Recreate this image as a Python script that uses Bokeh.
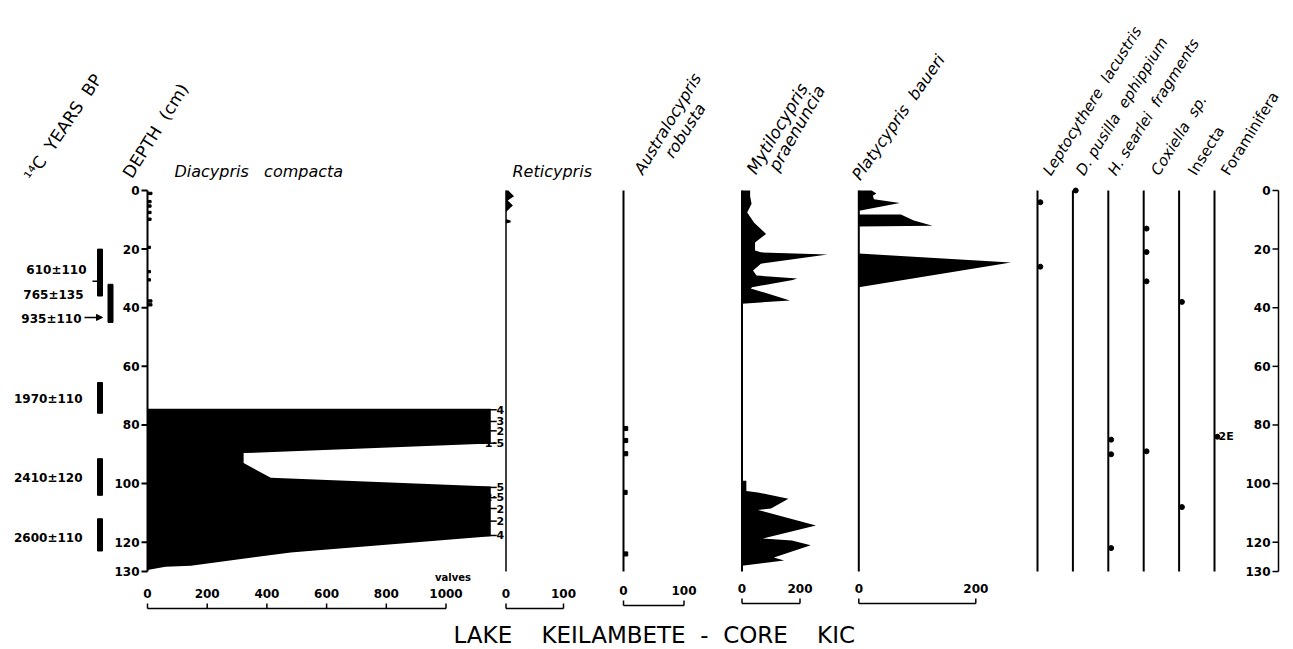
import numpy as np
from bokeh.plotting import figure
from bokeh.models import Range1d, Arrow, NormalHead
from bokeh.core.properties import value
from bokeh.embed import file_html
from bokeh.resources import INLINE

NB = "\u00a0"  # non-breaking space keeps the wide word gaps of the original lettering

# ---------------- data ----------------
depth_ticks = [0, 20, 40, 60, 80, 100, 120, 130]

date_labels = ["610±110", "765±135", "935±110", "1970±110", "2410±120", "2600±110"]
date_label_depth = [27.0, 35.5, 43.7, 71.0, 98.0, 118.5]
date_bar_top = [20.0, 32.0, 65.5, 91.5, 112.0]
date_bar_bot = [36.0, 45.0, 76.0, 104.0, 123.0]
date_bar_col = [0, 1, 0, 0, 0]
date_mark_depth = 31.0
date_arrow_depth = 43.3

# Diacypris compacta (valves)
dia_small_depth = [1.0, 3.8, 5.3, 7.5, 9.8, 19.4, 27.7, 30.5, 37.7, 39.0]
dia_small_val = [15, 12, 12, 12, 12, 10, 10, 10, 15, 15]
dia_depth = [74.5, 74.5, 86.3, 89.6, 93.0, 98.0, 101.0, 118.0, 123.2, 123.5, 128.0, 128.4, 129.5]
dia_val = [0, 4000, 1500, 322, 322, 413, 5000, 4000, 520, 480, 145, 60, 0]
dia_trunc_depth = [74.8, 78.8, 82.0, 86.2, 101.3, 104.8, 108.5, 112.8, 117.7]
dia_trunc_label = ["4", "3", "2", "1·5", "5", "2·5", "2", "2", "4"]
dia_ticks = [0, 200, 400, 600, 800, 1000]

# Reticypris
ret_depth = [0.0, 2.0, 3.4, 5.1, 7.3, 9.8, 10.2, 10.9, 11.3]
ret_val = [4, 14, 3, 12, 0, 0, 8, 8, 0]
ret_ticks = [0, 100]

# Australocypris robusta
aus_depth = [81.2, 85.3, 89.8, 103.0, 124.0]
aus_val = [7, 7, 7, 6, 7]
aus_ticks = [0, 100]

# Mytilocypris praenuncia
myt_depth = [0, 2.0, 4.5, 7.5, 11.0, 14.8, 17.7, 20.5, 21.1, 21.8, 25.0, 27.3, 29.0, 30.0, 30.5,
             33.0, 33.4, 37.5, 38.6, 99.0, 99.0, 102.5, 103.0, 105.2, 108.5, 109.0, 114.3,
             118.7, 119.4, 121.0, 125.2, 126.2, 128.0]
myt_val = [28, 28, 33, 18, 42, 83, 45, 45, 65, 295, 65, 38, 50, 190, 175,
           35, 30, 165, 0, 0, 15, 15, 55, 160, 100, 55, 255,
           72, 172, 237, 110, 145, 0]
myt_ticks = [0, 200]

# Platycypris baueri
pla_depth = [0, 1.0, 1.8, 3.0, 4.3, 6.8, 7.0, 8.2, 8.2, 10.2, 12.0, 12.3, 21.5, 24.6, 33.0]
pla_val = [22, 30, 24, 26, 70, 3, 0, 0, 72, 94, 126, 0, 0, 260, 0]
pla_ticks = [0, 200]

# presence / absence columns
pres_labels = ["Leptocythere" + NB + " lacustris", "D. pusilla" + NB + " ephippium",
               "H. searlei" + NB + " fragments", "Coxiella" + NB + " sp.", "Insecta", "Foraminifera"]
pres_dot_col = [0, 0, 1, 2, 2, 2, 3, 3, 3, 3, 4, 4, 5]
pres_dot_depth = [4, 26, 0, 85, 90, 122, 13, 21, 31, 89, 38, 108, 84]
pres_note = "2E"
pres_note_depth = 84

title_text = ("LAKE" + NB * 3 + " KEILAMBETE" + NB + " -" + NB + " CORE" + NB * 3 + " KIC")

# ---------------- layout ----------------
W, H = 1293, 649
TOP_PX = 190.0
PX_PER_CM = 2.931
FONT = value("DejaVu Sans")

p = figure(width=W, height=H, output_backend="svg", toolbar_location=None,
           x_range=Range1d(0, W),
           y_range=Range1d((H - TOP_PX) / PX_PER_CM, -TOP_PX / PX_PER_CM),
           x_axis_type=None, y_axis_type=None,
           min_border=0, min_border_left=0, min_border_right=0,
           min_border_top=0, min_border_bottom=0, outline_line_color=None)
p.background_fill_color = "white"
p.border_fill_color = "white"


def panel_range(px0, px_per_unit):
    return Range1d(-px0 / px_per_unit, (W - px0) / px_per_unit)


p.extra_y_ranges = {"px": Range1d(H, 0)}
p.extra_x_ranges = {
    "dia": panel_range(147.0, 0.2985),
    "ret": panel_range(505.5, 0.575),
    "aus": panel_range(623.0, 0.605),
    "myt": panel_range(741.5, 0.29),
    "pla": panel_range(858.3, 0.585),
    "pres": panel_range(1037.0, 35.4),
}
D0, D1 = depth_ticks[0], depth_ticks[-1]
BLACK = "black"


def txt(x, y, s, size, angle=0.0, style="normal", align="left", baseline="bottom",
        xr="default", yr="px", xoff=0):
    p.text(x=x if isinstance(x, list) else [x], y=y if isinstance(y, list) else [y],
           text=s if isinstance(s, list) else [s],
           x_range_name=xr, y_range_name=yr, angle=np.deg2rad(angle),
           text_font=FONT, text_font_size=f"{size}px", text_font_style=style,
           text_align=align, text_baseline=baseline, text_color=BLACK, x_offset=xoff)


# ---- left depth axis ----
n = len(depth_ticks)
p.segment(x0=[147], x1=[147], y0=[D0], y1=[D1], line_color=BLACK, line_width=2)
p.segment(x0=[141] * n, x1=[147] * n, y0=depth_ticks, y1=depth_ticks, line_color=BLACK, line_width=2)
txt([139] * n, depth_ticks, [str(t) for t in depth_ticks], 12, style="bold",
    align="right", baseline="middle", yr="default")

# ---- radiocarbon dates ----
col_x = [99.5, 110.0]
p.vbar(x=[col_x[c] for c in date_bar_col], bottom=date_bar_bot, top=date_bar_top,
       width=5.0, color=BLACK)
p.segment(x0=[92], x1=[98], y0=[date_mark_depth], y1=[date_mark_depth], line_color=BLACK, line_width=1.5)
lab_x = [86, 83, 81, 82, 82, 82]
txt(lab_x, date_label_depth, date_labels, 12, style="bold", align="right",
    baseline="middle", yr="default")
p.add_layout(Arrow(x_start=84, x_end=102, y_start=date_arrow_depth, y_end=date_arrow_depth,
                   line_width=1.5, line_color=BLACK,
                   end=NormalHead(size=6, fill_color=BLACK, line_color=BLACK)))

# ---- Diacypris compacta ----
DIA_CAP = 1150
p.hbar(y=dia_small_depth, left=0, right=dia_small_val, height=0.8, color=BLACK, x_range_name="dia")
p.harea(y=dia_depth, x1=[0] * len(dia_depth), x2=list(np.minimum(dia_val, DIA_CAP)),
        fill_color=BLACK, x_range_name="dia")
m = len(dia_trunc_depth)
p.segment(x0=[1110] * m, x1=[1170] * m, y0=dia_trunc_depth, y1=dia_trunc_depth,
          line_color=BLACK, line_width=1.5, x_range_name="dia")
txt([1195] * m, dia_trunc_depth, dia_trunc_label, 11, style="bold", align="right",
    baseline="middle", xr="dia", yr="default")

# ---- Reticypris ----
p.segment(x0=[0], x1=[0], y0=[D0], y1=[D1], line_color=BLACK, line_width=1.5, x_range_name="ret")
p.harea(y=ret_depth, x1=[0] * len(ret_depth), x2=ret_val, fill_color=BLACK, x_range_name="ret")

# ---- Australocypris ----
p.segment(x0=[0], x1=[0], y0=[D0], y1=[D1], line_color=BLACK, line_width=2, x_range_name="aus")
p.hbar(y=aus_depth, left=0, right=aus_val, height=1.4, color=BLACK, x_range_name="aus")

# ---- Mytilocypris ----
p.segment(x0=[0], x1=[0], y0=[D0], y1=[D1], line_color=BLACK, line_width=2, x_range_name="myt")
p.harea(y=myt_depth, x1=[0] * len(myt_depth), x2=myt_val, fill_color=BLACK, x_range_name="myt")

# ---- Platycypris ----
p.segment(x0=[0], x1=[0], y0=[D0], y1=[D1], line_color=BLACK, line_width=2, x_range_name="pla")
p.harea(y=pla_depth, x1=[0] * len(pla_depth), x2=pla_val, fill_color=BLACK, x_range_name="pla")

# ---- presence columns ----
k = len(pres_labels)
p.segment(x0=list(range(k)), x1=list(range(k)), y0=[D0] * k, y1=[D1] * k,
          line_color=BLACK, line_width=2, x_range_name="pres")
p.scatter(x=[c + 0.08 for c in pres_dot_col], y=pres_dot_depth, size=5, color=BLACK,
          x_range_name="pres")
txt([k - 1], [pres_note_depth], [pres_note], 11, style="bold", align="left",
    baseline="middle", xr="pres", yr="default", xoff=4)

# ---- right depth axis ----
p.segment(x0=[1278], x1=[1278], y0=[D0], y1=[D1], line_color=BLACK, line_width=1.5)
p.segment(x0=[1272] * n, x1=[1278] * n, y0=depth_ticks, y1=depth_ticks, line_color=BLACK, line_width=1.5)
txt([1270] * n, depth_ticks, [str(t) for t in depth_ticks], 12, style="bold",
    align="right", baseline="middle", yr="default")


# ---- scale bars ----
def scale_bar(rname, ticks, ybar, ylab):
    t0, t1 = ticks[0], ticks[-1]
    nt = len(ticks)
    p.segment(x0=[t0], x1=[t1], y0=[ybar], y1=[ybar], line_color=BLACK, line_width=1.5,
              x_range_name=rname, y_range_name="px")
    p.segment(x0=ticks, x1=ticks, y0=[ybar] * nt, y1=[ybar - 5] * nt, line_color=BLACK,
              line_width=1.5, x_range_name=rname, y_range_name="px")
    txt(ticks, [ylab] * nt, [str(t) for t in ticks], 12, style="bold", align="center",
        baseline="middle", xr=rname)


scale_bar("dia", dia_ticks, 608, 593)
scale_bar("ret", ret_ticks, 608, 593)
scale_bar("aus", aus_ticks, 605, 590)
scale_bar("myt", myt_ticks, 603, 588)
scale_bar("pla", pla_ticks, 603, 588)
txt([dia_ticks[-1]], [577], ["valves"], 10, style="bold", align="center", baseline="middle",
    xr="dia", xoff=7)

# ---- headers ----
txt(36, 184, "¹⁴C" + NB + " YEARS" + NB + " BP", 17, angle=56)
txt(135, 181, "DEPTH" + NB + " (cm)", 17, angle=58)
txt(174, 180, "Diacypris" + NB * 2 + " compacta", 16, style="italic")
txt(512, 180, "Reticypris", 16, style="italic")
txt(646, 177, "Australocypris", 16, angle=59, style="italic")
txt(676, 161, "robusta", 16, angle=57, style="italic")
txt(759, 177, "Mytilocypris", 17, angle=59, style="italic")
txt(781, 174, "praenuncia", 17, angle=60, style="italic")
txt(863, 183, "Platycypris" + NB + " baueri", 16, angle=55, style="italic")
pres_hdr_x = [1054, 1087, 1119, 1162, 1199, 1232]
pres_hdr_style = ["italic", "italic", "italic", "italic", "normal", "normal"]
for i in range(k):
    txt(pres_hdr_x[i], 178, pres_labels[i], 15, angle=58, style=pres_hdr_style[i])

# ---- title ----
txt(453, 634, title_text, 23, baseline="middle")

open("out.html", "w").write(file_html(p, INLINE))
